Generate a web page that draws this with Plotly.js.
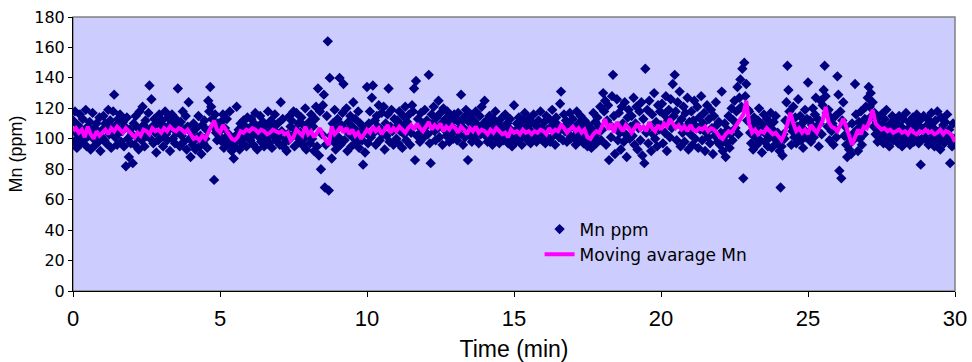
<!DOCTYPE html>
<html>
<head>
<meta charset="utf-8">
<script src="https://cdn.plot.ly/plotly-3.0.1.min.js"></script>
<style>html,body{margin:0;padding:0;background:#fff;}#chart{width:972px;height:362px;}</style>
</head>
<body>
<div id="chart"></div>
<script>
// Mn ppm readings, one every 2 seconds (30 per minute)
const mnPpm = [
112,98,118,104,94,109,101,116,97,106,113,99,104,119,95,108,102,111,93,105,117,100,107,96,110,103,98,114,92,101,
106,115,99,110,97,108,119,103,112,94,107,118,129,101,109,96,113,104,116,98,105,111,95,108,82,114,100,88,106,97,
103,84,110,96,115,101,107,93,118,104,99,121,109,95,112,102,106,117,135,100,126,108,97,113,104,91,110,99,116,105,
101,112,95,108,118,103,99,114,106,92,110,116,100,107,97,113,104,133,109,95,111,102,118,98,106,115,93,108,124,100,
88,104,96,110,99,93,107,101,115,95,102,90,109,97,112,100,106,94,125,118,134,121,113,108,73,116,104,99,110,102,
105,111,98,116,94,107,101,113,96,103,118,100,92,98,87,95,102,121,99,106,93,110,104,97,112,101,108,95,114,103,
107,99,113,102,96,110,117,104,93,108,101,115,98,106,111,95,103,109,100,118,97,105,112,94,107,102,116,99,104,110,
101,96,124,105,113,97,94,100,92,103,99,115,108,112,102,118,95,106,117,101,110,98,104,114,96,109,100,120,93,107,
104,111,97,116,100,108,92,113,121,95,133,89,118,80,103,122,129,68,96,115,164,66,140,102,87,110,98,119,93,106,
113,101,140,96,109,117,136,99,106,120,92,111,103,115,95,108,124,100,113,97,105,118,94,110,102,99,83,107,91,104,
134,97,110,118,101,127,135,104,112,96,115,108,122,99,106,117,103,121,93,110,102,116,133,98,108,119,105,96,113,107,
100,112,97,118,105,109,94,115,103,121,99,111,107,116,96,104,122,118,133,86,138,102,113,108,98,117,105,110,101,119,
108,112,103,142,97,84,116,110,121,105,99,114,107,125,101,117,110,96,120,106,113,102,118,109,98,115,104,111,100,116,
106,113,99,117,103,110,129,108,96,114,101,119,105,86,111,102,116,98,107,112,100,118,104,109,97,115,103,121,106,110,
125,102,112,98,107,115,101,109,96,113,104,118,100,106,111,97,108,103,114,99,105,116,102,110,97,107,113,101,95,104,
122,105,98,110,103,114,100,107,96,112,104,117,101,108,99,113,106,97,111,103,116,100,109,98,105,112,102,118,107,99,
103,111,97,115,106,100,113,98,108,119,102,110,96,114,104,109,101,123,131,107,99,116,105,112,98,110,103,117,100,108,
113,101,107,96,118,104,110,99,115,102,108,97,112,105,100,95,109,98,103,94,106,117,101,111,97,114,104,108,121,99,
106,130,118,125,96,112,122,86,109,101,128,142,115,90,107,126,99,117,104,93,121,110,98,124,103,88,114,119,100,108,
115,102,127,96,110,121,93,107,118,99,124,89,113,84,146,104,119,97,125,108,92,116,103,130,100,111,95,122,106,118,
109,123,97,116,104,128,92,112,119,101,126,107,136,115,142,118,99,124,110,131,95,113,104,121,98,117,108,127,93,111,
103,118,96,112,125,100,108,121,94,114,106,128,99,110,117,92,104,122,101,113,97,119,107,90,115,102,124,109,98,111,
96,104,131,92,101,110,88,97,106,115,94,103,120,99,112,125,107,118,134,103,127,139,121,146,74,150,128,136,112,119,
118,104,97,110,93,114,101,107,96,112,120,99,105,91,109,116,98,103,113,95,108,101,117,94,106,111,100,115,97,104,
98,92,68,95,89,103,100,112,124,148,132,118,109,96,105,121,101,114,97,108,126,103,115,99,110,94,106,119,101,113,
137,104,112,98,109,120,101,116,127,106,113,95,110,125,103,122,132,148,128,117,108,119,99,114,105,110,96,107,115,101,
141,129,79,118,74,112,124,102,108,96,88,101,93,97,90,110,99,104,136,116,106,92,111,100,118,96,108,103,113,121,
112,127,134,121,130,115,124,108,117,103,111,98,114,106,101,116,109,97,113,104,119,100,107,95,110,102,115,99,108,113,
103,110,97,115,101,108,95,113,104,99,117,106,100,111,96,108,103,114,98,109,101,116,105,97,112,83,107,100,115,102,
108,99,113,96,110,104,117,100,107,95,112,103,118,98,105,93,114,101,109,97,111,103,116,99,106,84,101,95,110,100,
98
];
// Moving average, one value every 6 seconds (10 per minute)
const movingAvg = [
105,107,104,106,101,108,103,100,105,102,
104,106,103,107,105,108,106,104,107,105,
103,101,104,102,106,105,103,107,105,106,
104,107,105,108,106,105,107,106,104,106,
103,100,101,99,102,100,104,108,112,106,
104,109,106,103,100,99,101,105,104,106,
105,107,106,104,106,105,103,104,106,105,
104,105,103,104,99,101,106,104,102,108,
103,105,101,104,107,102,99,96,108,103,
105,108,104,107,103,106,102,104,100,103,
106,104,108,105,107,103,106,109,104,107,
105,108,106,104,107,109,106,110,107,105,
108,111,106,109,107,110,105,108,106,109,
107,104,108,106,103,107,105,108,104,106,
105,103,106,104,107,105,103,104,101,106,
104,105,103,106,104,105,103,105,104,106,
105,103,107,104,106,105,109,107,104,106,
108,105,107,104,106,101,100,103,105,104,
108,113,106,110,104,111,108,105,109,107,
104,107,110,106,108,105,111,107,105,109,
106,110,108,113,110,107,109,106,108,105,
109,106,105,107,106,108,105,107,106,104,
101,100,103,105,104,107,110,113,116,125,
110,104,106,103,105,104,107,105,103,104,
101,99,103,109,117,110,105,107,104,106,
103,109,106,104,108,112,121,111,108,107,
105,109,113,108,102,96,101,106,103,108,
107,112,119,110,108,106,107,105,106,104,
105,106,104,105,103,106,104,103,105,104,
106,104,105,103,104,106,103,105,104,102,
98
];
const seriesNames = ["Mn ppm", "Moving avarage Mn"];
const xTickVals = [0, 5, 10, 15, 20, 25, 30];
const yTickVals = [0, 20, 40, 60, 80, 100, 120, 140, 160, 180];

const arial = "Liberation Sans, Arial, sans-serif";
const wide = "DejaVu Sans, sans-serif";

const traces = [
  {
    type: "scatter", mode: "markers", name: seriesNames[0],
    x0: 0, dx: 1 / 30, y: mnPpm,
    marker: {symbol: "diamond", size: 8, color: "#000080", line: {width: 0}}
  },
  {
    type: "scatter", mode: "lines", name: seriesNames[1],
    x0: 0, dx: 0.1, y: movingAvg,
    line: {color: "#ff00ff", width: 4}
  }
];

const layout = {
  width: 972, height: 362,
  margin: {l: 73, r: 17, t: 17, b: 71},
  paper_bgcolor: "#ffffff",
  plot_bgcolor: "#ccccff",
  font: {family: arial, color: "#000000"},
  showlegend: true,
  legend: {
    x: 0.529, y: 0.29, xanchor: "left", yanchor: "top",
    bgcolor: "rgba(0,0,0,0)", font: {size: 17, family: wide},
    tracegroupgap: 0, itemwidth: 30
  },
  xaxis: {
    range: [0, 30], tickvals: xTickVals, ticktext: xTickVals.map(String),
    showgrid: false, zeroline: false, showline: true, linecolor: "#000000", linewidth: 1,
    ticks: "outside", ticklen: 5, tickcolor: "#000000",
    ticklabelstandoff: 3,
    tickfont: {size: 22, family: arial},
    title: {text: "Time (min)", font: {size: 23, family: arial}, standoff: 12}
  },
  yaxis: {
    range: [0, 180], tickvals: yTickVals, ticktext: yTickVals.map(String),
    showgrid: false, zeroline: false, showline: true, linecolor: "#000000", linewidth: 1,
    ticks: "outside", ticklen: 4, tickcolor: "#000000",
    tickfont: {size: 16, family: wide},
    title: {text: "Mn (ppm)", font: {size: 18, family: arial}, standoff: 6}
  },
  shapes: [{
    type: "rect", xref: "paper", yref: "paper", x0: 0, x1: 1, y0: 0, y1: 1,
    line: {color: "#808080", width: 1.5}, layer: "below"
  }]
};

Plotly.newPlot("chart", traces, layout, {displayModeBar: false, staticPlot: true});
</script>
</body>
</html>
